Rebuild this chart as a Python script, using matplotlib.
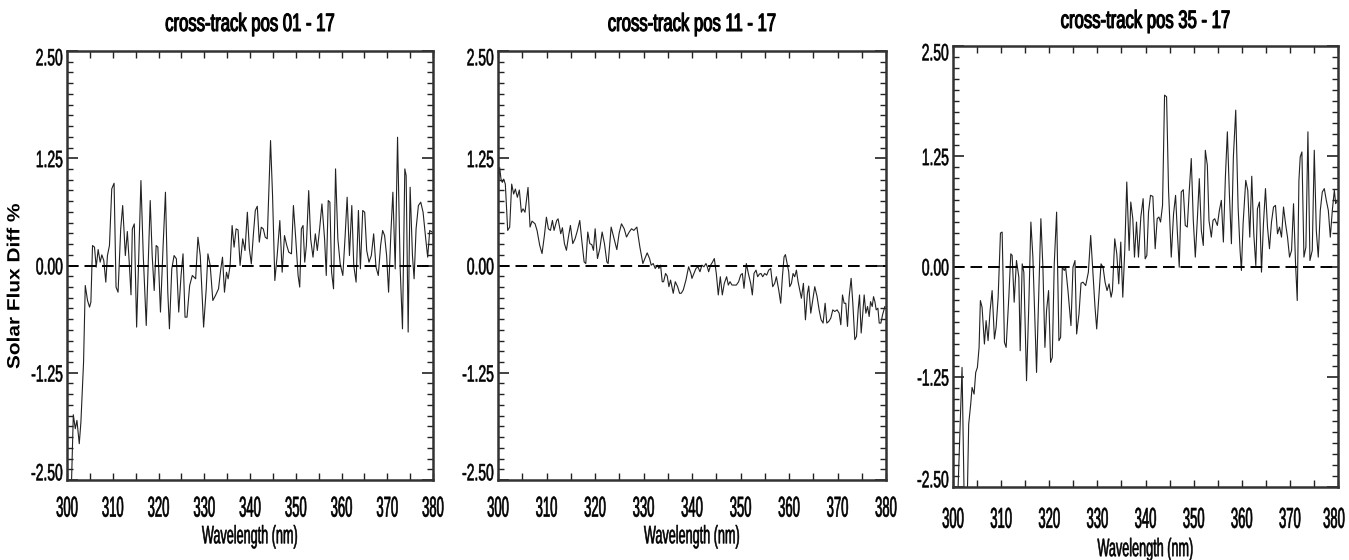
import matplotlib
matplotlib.use("Agg")
import matplotlib.pyplot as plt
from matplotlib.ticker import MultipleLocator, FixedLocator, FormatStrFormatter
from matplotlib.patheffects import AbstractPathEffect
from matplotlib.transforms import Affine2D, ScaledTranslation

# ---------------- data ----------------
titles = ["cross-track pos 01 - 17", "cross-track pos 11 - 17", "cross-track pos 35 - 17"]
x_label = "Wavelength (nm)"
y_label = "Solar Flux Diff %"
x_ticks = [300, 310, 320, 330, 340, 350, 360, 370, 380]
y_ticks = [-2.50, -1.25, 0.00, 1.25, 2.50]

wl1 = [300.95, 301.38, 301.81, 302.17, 302.68, 303.04, 303.62, 303.99, 304.49, 304.93,
       305.22, 305.58, 306.01, 306.38, 306.81, 307.25, 307.61, 308.04, 308.48, 308.84,
       309.28, 309.78, 310.29, 310.72, 311.16, 311.74, 312.17, 312.75, 313.19, 313.62,
       313.99, 314.28, 314.71, 315.22, 315.65, 316.16, 316.67, 317.32, 317.75, 318.19,
       318.62, 319.06, 319.49, 319.86, 320.43, 321.01, 321.52, 322.03, 322.39, 322.90,
       323.41, 323.91, 324.42, 324.93, 325.36, 325.80, 326.23, 326.81, 327.39, 328.12,
       328.62, 329.13, 329.86, 330.43, 330.80, 331.30, 331.88, 332.46, 333.12, 333.62,
       333.99, 334.42, 334.86, 335.22, 335.65, 336.09, 336.52, 336.96, 337.39, 337.83,
       338.41, 338.91, 339.42, 339.86, 340.29, 340.72, 341.16, 341.59, 342.03, 342.46,
       342.90, 343.33, 343.77, 344.49, 344.93, 345.43, 345.94, 346.52, 347.03, 347.54,
       348.04, 348.48, 349.06, 349.49, 350.00, 350.51, 350.87, 351.23, 351.59, 351.96,
       352.32, 352.83, 353.26, 353.77, 354.28, 354.71, 355.22, 355.72, 356.30, 356.67,
       357.10, 357.46, 357.83, 358.26, 358.70, 359.20, 359.71, 360.29, 360.80, 361.23,
       361.74, 362.25, 362.68, 363.19, 363.70, 364.13, 364.64, 365.07, 365.51, 366.01,
       366.52, 367.03, 367.54, 368.04, 368.55, 368.99, 369.42, 369.86, 370.29, 370.80,
       371.23, 371.74, 372.25, 372.83, 373.33, 373.84, 374.13, 374.57, 375.00, 375.51,
       375.87, 376.30, 376.81, 377.32, 377.83, 378.41, 378.84, 379.28, 379.86]
flux1 = [-2.60, -1.739, -1.902, -1.805, -2.077, -1.825, -1.126, -0.233, -0.408, -0.485,
         -0.427, 0.233, 0.214, -0.019, 0.186, 0.039, 0.124, 0.058, -0.194, 0.116,
         0.233, 0.893, 0.959, -0.252, -0.311, 0.427, 0.699, 0.116, 0.396, 0.019,
         -0.342, 0.427, 0.485, -0.718, 0.039, 0.990, 0.116, -0.699, 0.039, 0.757,
         0.116, -0.291, 0.233, 0.214, -0.543, 0.233, 0.854, -0.311, -0.738, -0.039,
         0.116, 0.078, -0.543, -0.116, 0.136, -0.602, -0.602, -0.233, -0.116, -0.155,
         0.330, 0.116, -0.718, -0.272, 0.136, 0.000, -0.408, -0.349, -0.272, -0.039,
         0.097, -0.311, -0.078, -0.155, 0.000, 0.466, 0.214, 0.427, 0.415, 0.000,
         0.311, 0.175, 0.621, 0.194, 0.019, 0.349, 0.641, 0.691, 0.272, 0.446,
         0.427, 0.330, 0.311, 1.456, 0.815, -0.175, 0.116, 0.524, -0.078, 0.349,
         0.233, 0.155, 0.136, 0.699, 0.311, -0.116, -0.252, 0.427, 0.466, 0.039,
         0.233, 0.873, 0.311, 0.097, 0.369, 0.175, 0.427, 0.718, 0.311, -0.116,
         0.757, 0.738, -0.078, -0.272, 1.126, 0.311, 0.019, -0.116, 0.349, 0.796,
         0.116, 0.699, 0.000, -0.194, 0.641, -0.039, 0.641, 0.621, 0.175, 0.039,
         0.116, 0.369, -0.019, -0.116, 0.233, 0.408, 0.349, 0.116, -0.311, 0.388,
         0.854, -0.039, 1.495, -0.039, -0.738, 1.126, 1.048, -0.776, 0.912, 0.116,
         -0.155, 0.427, 0.699, 0.738, 0.621, 0.311, 0.097, 0.408, 0.388]

wl2 = [300.07, 300.34, 300.62, 300.89, 301.17, 301.51, 302.00, 302.41, 302.82, 303.23,
       303.58, 303.99, 304.40, 304.82, 305.16, 305.57, 306.19, 306.61, 307.02, 307.64,
       308.05, 308.60, 309.08, 309.57, 309.98, 310.39, 310.81, 311.22, 311.56, 312.11,
       312.39, 312.94, 313.28, 313.70, 314.11, 314.52, 314.93, 315.42, 315.90, 316.38,
       316.86, 317.27, 317.76, 318.10, 318.51, 318.93, 319.34, 319.68, 320.03, 320.51,
       320.99, 321.47, 321.95, 322.44, 322.71, 323.33, 323.88, 324.50, 324.98, 325.46,
       326.02, 326.50, 327.05, 327.53, 328.01, 328.63, 329.25, 329.87, 330.76, 331.25,
       331.59, 332.00, 332.42, 332.90, 333.17, 333.52, 333.86, 334.14, 334.55, 334.89,
       335.24, 335.58, 336.13, 336.55, 337.03, 337.44, 337.78, 338.20, 338.75, 339.30,
       339.78, 339.99, 340.40, 340.81, 341.22, 341.64, 342.05, 342.46, 342.88, 343.15,
       343.43, 343.84, 344.25, 344.60, 345.01, 345.42, 345.84, 346.25, 346.66, 347.14,
       347.49, 347.83, 348.25, 348.66, 349.14, 349.62, 350.03, 350.38, 350.72, 351.20,
       351.62, 352.10, 352.44, 352.79, 353.20, 353.54, 353.89, 354.23, 354.58, 354.99,
       355.40, 355.81, 356.23, 356.64, 357.05, 357.40, 357.88, 358.29, 358.64, 358.98,
       359.26, 359.67, 359.94, 360.15, 360.50, 360.84, 361.18, 361.53, 361.87, 362.22,
       362.56, 362.97, 363.39, 363.80, 364.07, 364.49, 364.90, 365.31, 365.79, 366.21,
       366.62, 367.03, 367.45, 367.79, 368.20, 368.62, 369.03, 369.44, 369.92, 370.34,
       370.68, 371.03, 371.37, 371.71, 372.06, 372.40, 372.81, 373.16, 373.57, 373.92,
       374.26, 374.54, 374.88, 375.16, 375.50, 375.85, 376.19, 376.53, 376.81, 377.16,
       377.43, 377.71, 377.98, 378.33, 378.60, 378.95, 379.29, 379.77]
flux2 = [0.949, 1.142, 1.007, 0.968, 1.007, 0.949, 0.409, 0.448, 0.949, 0.833,
         0.891, 0.795, 0.880, 0.621, 0.660, 0.621, 0.910, 0.448, 0.517, 0.486,
         0.409, 0.235, 0.139, 0.351, 0.563, 0.428, 0.409, 0.525, 0.409, 0.525,
         0.544, 0.370, 0.440, 0.255, 0.177, 0.332, 0.467, 0.255, 0.313, 0.409,
         0.525, 0.293, 0.042, 0.023, 0.390, 0.255, 0.243, 0.177, 0.428, 0.081,
         0.197, 0.390, 0.255, 0.042, 0.023, 0.448, 0.324, 0.185, 0.378, 0.486,
         0.428, 0.332, 0.390, 0.428, 0.409, 0.448, 0.216, 0.023, 0.147, 0.081,
         0.004, 0.023, -0.035, 0.004, -0.035, 0.004, -0.189, -0.189, -0.093, -0.123,
         -0.247, -0.170, -0.324, -0.189, -0.247, -0.324, -0.324, -0.285, -0.170, -0.015,
         -0.093, -0.150, -0.093, -0.035, -0.015, -0.073, 0.004, -0.015, 0.023, -0.015,
         -0.073, 0.004, 0.042, 0.081, -0.093, -0.343, -0.131, -0.343, -0.208, -0.131,
         -0.228, -0.189, -0.228, -0.228, -0.228, -0.189, -0.112, -0.093, -0.266, 0.023,
         -0.093, -0.208, -0.343, -0.093, -0.054, -0.131, -0.100, -0.093, -0.131, -0.093,
         -0.112, -0.054, -0.035, -0.247, -0.208, -0.131, -0.285, -0.440, -0.131, 0.100,
         0.127, 0.004, -0.073, -0.247, -0.208, -0.093, -0.131, -0.054, -0.189, -0.285,
         -0.382, -0.208, -0.633, -0.324, -0.239, -0.556, -0.401, -0.247, -0.363, -0.517,
         -0.633, -0.671, -0.440, -0.671, -0.652, -0.613, -0.517, -0.536, -0.517, -0.556,
         -0.691, -0.343, -0.440, -0.440, -0.710, -0.363, -0.150, -0.440, -0.864, -0.826,
         -0.517, -0.343, -0.787, -0.594, -0.343, -0.556, -0.478, -0.594, -0.421, -0.478,
         -0.363, -0.421, -0.517, -0.498, -0.671, -0.671, -0.575, -0.478]

wl3 = [300.90, 301.88, 302.36, 302.92, 303.26, 303.68, 303.96, 304.38, 304.72, 305.07,
       305.42, 305.69, 306.04, 306.53, 306.88, 307.29, 307.71, 308.13, 308.61, 308.96,
       309.38, 309.86, 310.21, 310.69, 311.04, 311.60, 312.01, 312.29, 312.71, 313.19,
       313.68, 313.96, 314.38, 314.72, 315.28, 315.76, 316.18, 316.60, 316.94, 317.36,
       317.85, 318.26, 318.68, 319.10, 319.44, 319.86, 320.28, 320.63, 321.04, 321.53,
       322.01, 322.36, 322.71, 323.13, 323.40, 323.89, 324.51, 324.93, 325.35, 325.69,
       326.18, 326.60, 327.01, 327.57, 328.13, 328.61, 329.10, 329.51, 329.86, 330.35,
       330.76, 331.18, 331.60, 332.01, 332.43, 332.85, 333.13, 333.61, 334.03, 334.44,
       334.86, 335.28, 335.69, 336.11, 336.60, 336.94, 337.36, 337.71, 338.13, 338.54,
       339.03, 339.51, 339.93, 340.28, 340.63, 341.04, 341.53, 342.01, 342.43, 342.78,
       343.13, 343.54, 343.96, 344.38, 344.79, 345.35, 345.83, 346.25, 346.60, 347.01,
       347.43, 347.85, 348.26, 348.68, 349.10, 349.51, 349.93, 350.35, 350.76, 351.18,
       351.60, 352.01, 352.43, 352.85, 353.19, 353.68, 354.03, 354.38, 354.93, 355.35,
       355.76, 356.18, 356.60, 357.01, 357.43, 357.85, 358.26, 358.75, 359.24, 359.65,
       359.93, 360.28, 360.83, 361.25, 361.67, 362.08, 362.50, 362.92, 363.26, 363.68,
       364.10, 364.51, 364.93, 365.35, 365.76, 366.18, 366.60, 367.01, 367.43, 367.85,
       368.26, 368.68, 369.10, 369.51, 369.93, 370.35, 370.76, 371.18, 371.53, 371.88,
       372.15, 372.50, 372.92, 373.33, 373.75, 374.17, 374.65, 375.07, 375.49, 375.90,
       376.32, 376.74, 377.15, 377.57, 377.99, 378.40, 378.82, 379.24, 379.51, 379.93]
flux3 = [-2.77, -1.144, -2.77, -2.77, -1.788, -1.561, -1.371, -1.447, -1.201, -1.144,
         -0.917, -0.386, -0.462, -0.879, -0.614, -0.841, -0.500, -0.273, -0.822, -0.689,
         -0.348, 0.379, 0.390, -0.860, -0.917, -0.348, 0.144, 0.125, -0.405, 0.068,
         -0.121, -0.955, 0.030, -0.064, -1.295, -0.424, 0.504, 0.106, -0.462, -1.201,
         -0.235, 0.542, -0.008, -0.917, -0.500, -0.273, -1.087, -1.030, 0.030, 0.617,
         -0.841, -0.803, -0.008, -0.045, -0.008, -0.273, -0.670, -0.008, 0.068, -0.765,
         -0.538, -0.189, -0.178, -0.216, -0.064, 0.352, -0.102, -0.462, -0.708, -0.311,
         0.030, -0.008, -0.178, -0.273, -0.197, -0.348, -0.273, 0.314, 0.144, -0.197,
         0.277, -0.348, 0.182, 0.958, 0.182, 0.731, 0.542, 0.106, 0.504, 0.106,
         0.561, 0.769, 0.087, 0.125, 0.617, 0.807, 0.795, 0.201, 0.542, 0.561,
         0.504, 0.693, 1.943, 1.924, 0.864, 0.106, 0.598, 0.807, 0.409, -0.008,
         0.845, 0.871, 0.466, 0.447, 0.864, 1.224, 0.523, 0.106, 0.523, 0.996,
         0.409, 0.239, 1.318, 1.148, 0.523, 0.333, 0.523, 0.542, 0.466, 0.636,
         0.750, 0.277, 1.015, 1.527, 0.826, 0.258, 1.242, 1.773, 0.674, 0.182,
         -0.045, 0.485, 0.977, 0.864, 0.333, 1.023, 0.371, 0.011, 0.655, 0.731,
         -0.064, 0.485, 0.883, 0.447, 0.201, 0.504, 0.674, 0.693, 0.371, 0.447,
         0.333, 0.674, 0.485, 0.333, 0.106, 0.182, 0.712, 0.030, -0.386, 0.977,
         1.242, 1.299, 0.106, 0.220, 1.527, 0.068, 0.182, 1.318, 0.409, 0.106,
         0.636, 0.845, 0.883, 0.750, 0.636, 0.333, 0.636, 0.864, 0.712, 0.750]

series = [(wl1, flux1), (wl2, flux2), (wl3, flux3)]


# ---------------- a path effect that stretches (and slightly emboldens) glyphs ----------------
class Stretch(AbstractPathEffect):
    """Scale glyph outlines about the text centre (text-local axes); optional outline stroke."""

    def __init__(self, sx=1.0, sy=1.0, lw=0.0):
        super().__init__()
        self.sx, self.sy, self.lw = sx, sy, lw

    def draw_path(self, renderer, gc, tpath, affine, rgbFace=None):
        ext = tpath.get_extents()
        cx, cy = (ext.x0 + ext.x1) / 2, (ext.y0 + ext.y1) / 2
        t = Affine2D().translate(-cx, -cy).scale(self.sx, self.sy).translate(cx, cy) + affine
        if self.lw > 0 and rgbFace is not None:
            gc0 = renderer.new_gc()
            gc0.copy_properties(gc)
            gc0.set_linewidth(self.lw)
            gc0.set_foreground(rgbFace)
            gc0.set_joinstyle('round')
            renderer.draw_path(gc0, tpath, t, rgbFace)
            gc0.restore()
        else:
            renderer.draw_path(gc, tpath, t, rgbFace)


# ---------------- layout ----------------
W, H = 1349, 560
FONT = ['Liberation Sans', 'DejaVu Sans']

# axes boxes in pixels: left, right, top, bottom
boxes = [(67, 433, 51, 480), (498, 886, 51, 480), (953, 1338, 46, 487)]
title_pads = [16, 16, 14.6]
xtick_pads = [16, 16, 19]
xlabel_y = [-0.119, -0.119, -0.129]

fig = plt.figure(figsize=(W / 100, H / 100), dpi=100)

for i, ((l, r, t, b), (wl, fl)) in enumerate(zip(boxes, series)):
    ax = fig.add_axes([l / W, 1 - b / H, (r - l) / W, (b - t) / H])
    ax.plot(wl, fl, color='#222222', lw=0.8)
    ax.axhline(0.0, color='black', lw=1.4, ls=(0, (6, 3)))
    ax.set_xlim(300, 380)
    ax.set_ylim(-2.5, 2.5)

    ax.xaxis.set_major_locator(FixedLocator(x_ticks))
    ax.xaxis.set_minor_locator(MultipleLocator(5))
    ax.yaxis.set_major_locator(FixedLocator(y_ticks))
    ax.yaxis.set_minor_locator(MultipleLocator(0.125))
    ax.yaxis.set_major_formatter(FormatStrFormatter('%.2f'))

    ax.tick_params(which='both', direction='in', top=True, right=True, color='#222222')
    ax.tick_params(axis='x', which='both', length=5, width=1.0, pad=xtick_pads[i])
    ax.tick_params(axis='y', which='major', length=8, width=1.2, pad=3)
    ax.tick_params(axis='y', which='minor', length=4, width=1.0)

    for s in ax.spines.values():
        s.set_linewidth(1.8)
        s.set_color('#333333')

    for lab in ax.get_xticklabels():
        lab.set_family(FONT)
        lab.set_fontsize(9.4)
        lab.set_path_effects([Stretch(sy=2.2, lw=0.45)])
    for lab in ax.get_yticklabels():
        lab.set_family(FONT)
        lab.set_fontsize(10)
        lab.set_path_effects([Stretch(sy=1.7, lw=0.4)])
    ylabs = ax.get_yticklabels()
    ylabs[0].set_va('bottom')
    ylabs[-1].set_va('top')
    if i == 2:
        last = ax.get_xticklabels()[-1]
        last.set_transform(last.get_transform() + ScaledTranslation(-4 / 100, 0, fig.dpi_scale_trans))

    ttl = ax.set_title(titles[i], family=FONT, fontsize=12, pad=title_pads[i])
    ttl.set_path_effects([Stretch(sy=1.5, lw=0.8)])
    xl = ax.set_xlabel(x_label, family=FONT, fontsize=9.1)
    xl.set_path_effects([Stretch(sy=2.0, lw=0.4)])
    ax.xaxis.set_label_coords(0.5, xlabel_y[i])

yl = fig.text(15 / W, 1 - 286 / H, y_label, rotation=90, ha='center', va='center',
              fontsize=15, fontweight='bold', family=FONT)
yl.set_path_effects([Stretch(sy=0.85)])

fig.savefig('out.png', dpi=100)
